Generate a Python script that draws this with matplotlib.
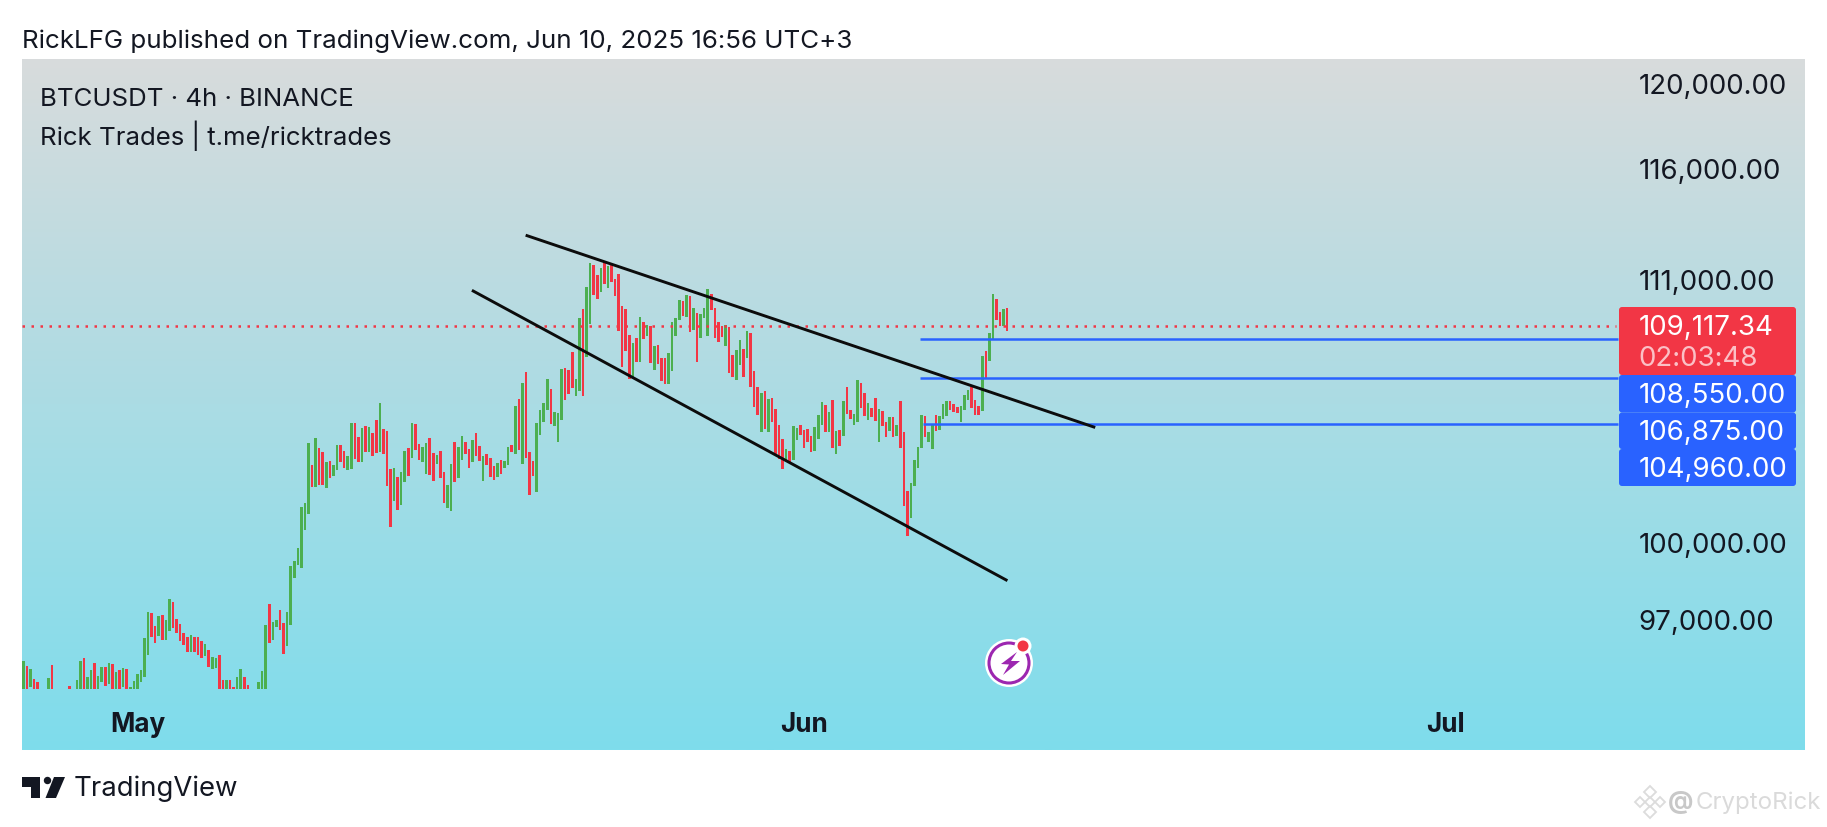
import numpy as np
import matplotlib
matplotlib.use('Agg')
import matplotlib.pyplot as plt
from matplotlib.patches import FancyBboxPatch, Circle, Polygon
from matplotlib.ticker import NullFormatter
from matplotlib.transforms import ScaledTranslation

plt.rcParams['font.family'] = ['Inter', 'DejaVu Sans']

highs = [
    95530, 95340, 95210, 94830, 94730, 94400, 94400, 94860, 95360, 94400,
    94400, 94400, 94400, 94560, 94400, 94800, 95530, 95620, 94900, 95170,
    95440, 94960, 95280, 95280, 95440, 95390, 95090, 95170, 95240, 95210,
    94520, 94760, 95020, 95170, 96390, 97410, 97350, 96870, 97230, 97280,
    97080, 97900, 97770, 97120, 96930, 96580, 96430, 96510, 96430, 96430,
    96280, 96150, 95920, 95670, 95640, 95740, 94780, 94810, 94780, 94520,
    94900, 95200, 94910, 94610, 94400, 94400, 94710, 95140, 96890, 97700,
    96990, 97100, 97460, 96960, 97380, 99200, 99400, 99890, 101530, 101700,
    104160, 103250, 104360, 103940, 103800, 103370, 103400, 103270, 104090, 104080,
    103830, 103610, 104990, 104970, 104400, 104780, 104880, 104820, 104570, 105100,
    105830, 104740, 104640, 103070, 103130, 102760, 102950, 103830, 103970, 104970,
    104930, 104120, 103980, 104160, 104350, 103750, 103680, 103840, 102950, 102450,
    103290, 104190, 103980, 104460, 104190, 103910, 104270, 104560, 104030, 103610,
    103690, 103540, 103200, 103330, 103470, 103400, 103980, 104090, 105690, 105990,
    106670, 107120, 103800, 103430, 104970, 105550, 105830, 106850, 106420, 105430,
    105390, 107270, 107310, 107220, 108010, 106840, 109460, 109850, 110800, 111880,
    111790, 111350, 111640, 111980, 111730, 111840, 111170, 111410, 110000, 109850,
    108720, 108360, 108590, 109520, 109300, 109160, 109130, 108260, 108290, 107720,
    107730, 107930, 109300, 109450, 110250, 110220, 110470, 110440, 109900, 109680,
    109630, 109900, 110730, 110510, 109900, 109300, 109100, 109160, 109090, 107860,
    108080, 108510, 108120, 108910, 108810, 107170, 106490, 106250, 106320, 105990,
    106020, 105560, 104900, 104320, 103910, 103830, 104850, 104790, 104900, 104700,
    104740, 104430, 104810, 105320, 105850, 105740, 105430, 105940, 104670, 104710,
    105920, 106500, 105530, 105350, 106780, 106670, 106250, 105830, 105600, 106020,
    105560, 105490, 105040, 105250, 105220, 104920, 105910, 104600, 102190, 102500,
    103460, 104010, 105340, 105280, 104600, 104930, 105320, 105280, 105780, 105900,
    105900, 105770, 105670, 105710, 106160, 106370, 106490, 105970, 105690, 107810,
    108020, 108800, 110520, 110300, 109740, 109850, 109880,
]
lows = [
    94300, 94300, 94520, 94300, 94300, 94300, 94300, 94300, 94300, 94300,
    94300, 94300, 94300, 94300, 94300, 94300, 94300, 94300, 94300, 94300,
    94300, 94300, 94730, 94560, 94650, 94300, 94300, 94300, 94520, 94300,
    94300, 94300, 94300, 94720, 94920, 95760, 96440, 96190, 96460, 96330,
    96330, 96650, 96780, 96570, 96290, 96120, 95840, 95870, 95870, 95740,
    95620, 95690, 95290, 95210, 95240, 94300, 94300, 94300, 94300, 94300,
    94300, 94300, 94300, 94300, 94300, 94300, 94300, 94300, 94300, 96210,
    96330, 96800, 96700, 95790, 96070, 96900, 98730, 99230, 99110, 100610,
    101270, 102370, 102370, 102430, 102430, 102320, 102730, 102810, 103060, 103390,
    103130, 103030, 103090, 103500, 103360, 103360, 103770, 103770, 103610, 103730,
    103770, 103700, 102410, 100730, 101800, 101440, 101640, 102560, 102810, 103540,
    103870, 103470, 103390, 102870, 102840, 102610, 103290, 102730, 101720, 101520,
    101400, 102570, 102720, 103470, 103700, 103130, 103360, 103610, 103430, 102610,
    103270, 102750, 102650, 102770, 102900, 103130, 103270, 103770, 103700, 103880,
    103290, 103540, 102010, 102790, 102130, 104500, 105020, 105550, 104960, 104880,
    104210, 105110, 105970, 106210, 106440, 106140, 106350, 106140, 107760, 109200,
    110480, 110290, 110580, 110940, 110790, 111020, 110440, 108910, 107340, 108020,
    106840, 106880, 107580, 107580, 108550, 108700, 107520, 107240, 107480, 106740,
    106610, 106640, 107190, 108700, 109390, 109560, 109520, 108870, 108950, 107550,
    108580, 109460, 108700, 109820, 108610, 108410, 108640, 108260, 107080, 106940,
    106800, 107450, 106940, 107730, 106500, 105660, 105320, 104630, 104740, 104630,
    105040, 103700, 103500, 103090, 103430, 103320, 103470, 104290, 104500, 103940,
    104210, 103800, 103810, 104320, 104900, 104600, 104630, 103960, 103690, 104050,
    104430, 105380, 105150, 104900, 105040, 105600, 105290, 105130, 105250, 105090,
    104210, 104880, 104420, 104670, 104390, 104430, 103940, 101600, 100390, 101110,
    102410, 103140, 103970, 104420, 104180, 103900, 104670, 104710, 105150, 105290,
    105550, 105430, 105410, 105020, 105550, 105970, 105600, 105320, 105320, 105480,
    106900, 107620, 108490, 109390, 109100, 109100, 108910,
]
directions = (
    'GRGRRRGGRR' 'RGGRGGGRGG' 'RGGRGRGRGR' 'GGGGGGRRGR' 'GGRRRRRGRR'
    'RGRGGRRGRR' 'GGRRRGGGGR' 'GGRRGGGGGG' 'GRGRRGRGGR' 'RGGRRGRGRR'
    'GRRRGRGGRG' 'RRGGRRGRRG' 'GRGGRRGRRG' 'RRRGRGGRGR' 'GRRRGGGGRG'
    'GGRRRGGRGG' 'RRGRGRRRRR' 'RGRGRGRGRR' 'RGGGGRGRGR' 'GGGRRRRGRR'
    'GGRGRRRGRG' 'RRRRGRGGRR' 'RRGGGRGRGR' 'GRRGGRRGRR' 'GRRGRGRRRG'
    'GGGRGGRGGG' 'RRRGGGRRRG' 'RGGRRGR'
)

tick_prices = [120000, 116000, 111000, 100000, 97000]
tick_labels = ['120,000.00', '116,000.00', '111,000.00', '100,000.00', '97,000.00']
month_bars = [32, 219, 399]
month_labels = ['May', 'Jun', 'Jul']

last_price = 109117.34
levels = [108550, 106875, 104960]
level_starts = [251.5, 251.5, 252.4]
level_end = 447.3

upper_x = [141.3, 300.3]
upper_y = [113100, 104820]
lower_x = [126.2, 275.7]
lower_y = [110640, 98640]

W, H = 1827, 828
GREEN = '#4CAF50'
RED = '#F23645'
BLUE = '#2962FF'
INK = '#131722'

fig = plt.figure(figsize=(W / 100, H / 100), dpi=100, facecolor='white')


def px_axes(x0, y0, x1, y1):
    return fig.add_axes([x0 / W, 1 - y1 / H, (x1 - x0) / W, (y1 - y0) / H])


# gradient panel
bg = px_axes(22, 60, 1805, 751)
top = np.array([216, 219, 220]) / 255
bottom = np.array([126, 221, 236]) / 255
t = np.linspace(0, 1, 256)[:, None, None]
bg.imshow(top * (1 - t) + bottom * t, aspect='auto')
bg.axis('off')

# price pane
ax = px_axes(22, 60, 1805, 689.5)
ax.patch.set_alpha(0)
ax.set_yscale('log')
ax.set_xlim(-0.37, 499.8)
ax.set_ylim(94477, 121323)
for s in ax.spines.values():
    s.set_visible(False)

bar_x = np.arange(len(highs))
colors = [GREEN if d == 'G' else RED for d in directions]
ax.bar(bar_x, np.array(highs) - np.array(lows), bottom=lows, width=0.72,
       color=colors, linewidth=0, zorder=2)

ax.plot([-0.37, level_end - 0.5], [last_price, last_price], color=RED, lw=1.8,
        linestyle=(0, (1, 2.6)), zorder=3)
for lvl, start in zip(levels, level_starts):
    ax.plot([start, level_end], [lvl, lvl], color=BLUE, lw=1.8, zorder=3,
            solid_capstyle='butt')
ax.plot(upper_x, upper_y, color='#0c0c0c', lw=2.1, zorder=4)
ax.plot(lower_x, lower_y, color='#0c0c0c', lw=2.1, zorder=4)

ax.yaxis.tick_right()
ax.set_yticks(tick_prices)
ax.set_yticklabels(tick_labels)
ax.yaxis.set_minor_formatter(NullFormatter())
ax.tick_params(axis='y', which='both', length=0, pad=-120, labelsize=19.9, labelcolor=INK)
nudge = ScaledTranslation(0, 2.5 / 72, fig.dpi_scale_trans)
for lab in ax.get_yticklabels():
    lab.set_transform(lab.get_transform() + nudge)
ax.set_xticks(month_bars)
ax.set_xticklabels(month_labels, fontweight='bold')
ax.tick_params(axis='x', length=0, pad=16, labelsize=18.8, labelcolor=INK)

# overlay in pixel coordinates: headers, price labels, logos
deco = px_axes(0, 0, W, H)
deco.set_xlim(0, W)
deco.set_ylim(H, 0)
deco.axis('off')
deco.patch.set_alpha(0)

deco.text(22, 41, 'RickLFG published on TradingView.com, Jun 10, 2025 16:56 UTC+3',
          fontsize=18.7, color=INK, va='center')
deco.text(40, 100, 'BTCUSDT · 4h · BINANCE', fontsize=18.6, color=INK, va='center')
deco.text(40, 136, 'Rick Trades | t.me/ricktrades', fontsize=18.6, color=INK, va='center')


def label_box(y0, y1, color):
    deco.add_patch(FancyBboxPatch((1620, y0 + 1), 175, y1 - y0 - 2,
                                  boxstyle='round,pad=1,rounding_size=3',
                                  fc=color, ec='none'))


label_box(308, 376, RED)
label_box(376, 413.5, BLUE)
label_box(413.5, 450, BLUE)
label_box(450, 487, BLUE)
deco.text(1639, 328, '109,117.34', fontsize=19.9, color='white', va='center')
deco.text(1638, 359, '02:03:48', fontsize=19.9, color='#FBC0C6', va='center')
for lvl, yy in zip(levels, [396, 433, 470]):
    deco.text(1639, yy, f'{lvl:,.2f}', fontsize=19.9, color='white', va='center')

# lightning badge
deco.add_patch(Circle((1009, 664), 24, fc='white', ec='none'))
deco.add_patch(Circle((1009, 664), 20, fc='none', ec='#9C27B0', lw=2.2))
bolt = [(1017, 653), (1001, 665), (1009, 665.5), (1003, 676), (1020, 662), (1011, 662)]
deco.add_patch(Polygon(bolt, fc='#9C27B0', ec='none'))
deco.add_patch(Circle((1023, 647), 8.5, fc='white', ec='none'))
deco.add_patch(Circle((1023, 647), 5.5, fc=RED, ec='none'))

# TradingView logo
deco.add_patch(Polygon([(22, 778), (40, 778), (40, 799), (31, 799), (31, 788), (22, 788)],
                       fc=INK, ec='none'))
deco.add_patch(Circle((47.5, 781.5), 3.7, fc=INK, ec='none'))
deco.add_patch(Polygon([(54, 778), (65, 778), (56, 799), (45.5, 799)], fc=INK, ec='none'))
deco.text(74, 789, 'TradingView', fontsize=19.8, color=INK, va='center')

# watermark
for cx, cy, r in [(1650, 793, 6), (1650, 803, 5), (1650, 813, 6), (1640, 803, 5), (1660, 803, 5)]:
    deco.add_patch(Polygon([(cx - r, cy), (cx, cy - r), (cx + r, cy), (cx, cy + r)],
                           fc='none', ec='#dcdcdc', lw=1.3))
deco.text(1668, 803, '@', fontsize=18, color='#c8c8c8', va='center', fontweight='bold')
deco.text(1696, 803, 'CryptoRick', fontsize=17.3, color='#dadada', va='center')

fig.savefig('out.png', dpi=100, facecolor='white')
